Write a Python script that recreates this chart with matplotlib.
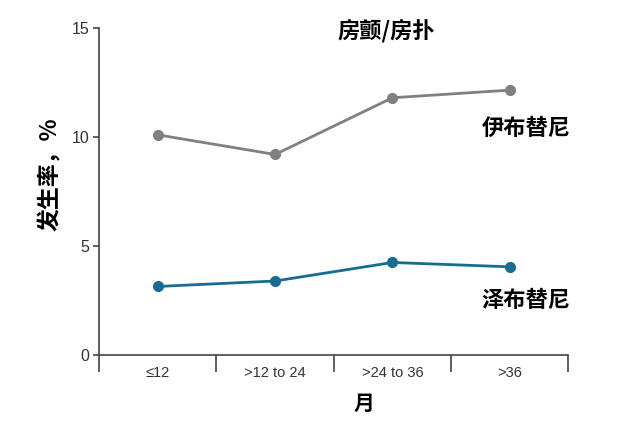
import matplotlib
matplotlib.use('Agg')
import matplotlib.pyplot as plt
import numpy as np

plt.rcParams['font.family'] = ['Noto Sans CJK SC', 'Liberation Sans', 'DejaVu Sans']

# data
categories = ['≤12', '>12 to 24', '>24 to 36', '>36']
ibrutinib = [10.1, 9.2, 11.8, 12.15]
zanubrutinib = [3.15, 3.4, 4.25, 4.05]
yticks = [0, 5, 10, 15]

gray = '#808080'
blue = '#176d91'
tick_color = '#333333'

fig = plt.figure(figsize=(6.4, 4.3), dpi=100)
ax = fig.add_axes([0.155, 0.174, 0.733, 0.761])

x = np.arange(1, len(categories) + 1)
ax.plot(x, ibrutinib, color=gray, lw=2, marker='o', ms=7, zorder=3)
ax.plot(x, zanubrutinib, color=blue, lw=2, marker='o', ms=7, zorder=3)

ax.set_xlim(0.5, len(categories) + 0.5)
ax.set_ylim(0, 15)

# boundaries as major ticks, names as minor ticks at the centres
ax.set_xticks(np.arange(0.5, len(categories) + 1, 1.0))
ax.set_xticklabels([])
ax.set_xticks(x, minor=True)
ax.set_xticklabels(categories, minor=True, family=['Liberation Sans', 'DejaVu Sans'])
ax.tick_params(axis='x', which='major', length=12, width=1.2, color='#444444', direction='out')
ax.tick_params(axis='x', which='minor', length=0, pad=8, labelsize=10.5, labelcolor=tick_color)

ax.set_yticks(yticks)
ax.set_yticklabels([str(v) for v in yticks], family=['Liberation Sans', 'DejaVu Sans'])
ax.tick_params(axis='y', length=4, width=1.2, color='#444444', labelsize=11.5, labelcolor=tick_color, pad=3)

for side in ['top', 'right']:
    ax.spines[side].set_visible(False)
for side in ['left', 'bottom']:
    ax.spines[side].set_color('#444444')
    ax.spines[side].set_linewidth(1.2)

# axis titles placed where the reference has them
fig.text(50 / 640, 1 - 174 / 430, '发生率，%', fontsize=16.5, fontweight='bold',
         rotation=90, ha='center', va='center')
fig.text(364 / 640, 1 - 403 / 430, '月', fontsize=15, fontweight='bold', ha='center', va='center')

fig.text(386 / 640, 1 - 31 / 430, '房颤/房扑', fontsize=16, fontweight='bold', ha='center', va='center')
ax.text(4.14, 10.4, '伊布替尼', fontsize=16, fontweight='bold', ha='center', va='center')
ax.text(4.14, 2.5, '泽布替尼', fontsize=16, fontweight='bold', ha='center', va='center')

fig.savefig('out.png', dpi=100)
